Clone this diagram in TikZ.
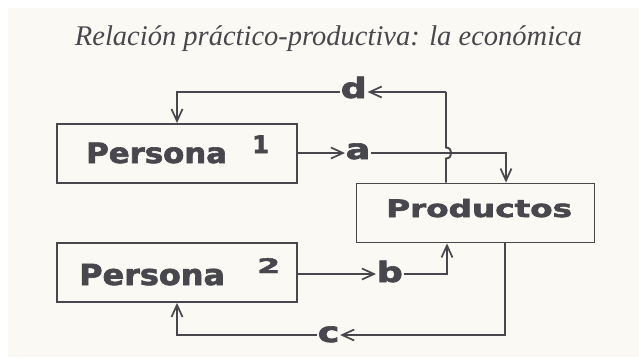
\documentclass[tikz,border=0pt]{standalone}
\usepackage{fontspec}
\usetikzlibrary{arrows.meta}
\newfontfamily\titlefont{Liberation Serif}
\newfontfamily\boxfont{DejaVu Sans}[BoldFeatures={FakeBold=2.2}]
\definecolor{ink}{HTML}{48474D}
\definecolor{paper}{HTML}{FAF9F4}
\newcommand{\wide}[2]{\scalebox{#1}[1]{#2}}
\tikzset{
  box/.style={draw=ink, line width=1.9pt, minimum width=240pt, minimum height=59pt, inner sep=0pt},
  boxtext/.style={text=ink, font=\boxfont\bfseries, inner sep=0pt, anchor=base west},
  lbl/.style={text=ink, font=\boxfont\bfseries\fontsize{28}{28}\selectfont, inner sep=0.6pt, anchor=base west},
  conn/.style={draw=ink, line width=1.9pt},
  arr/.style={conn, -{Straight Barb[length=12pt,width=11pt,line width=1.7pt]}}
}
\begin{document}
\begin{tikzpicture}[x=1pt,y=-1pt]
\useasboundingbox (0,0) rectangle (639,360);
\fill[white] (0,0) rectangle (639,360);
\fill[paper] (8,8) rectangle (639,357);
\node[text=ink, font=\titlefont\itshape\fontsize{28.5}{28.5}\selectfont, anchor=base, inner sep=0pt] (title) at (328.5,45) {Relación práctico-productiva: la económica};
% boxes
\node[box] (p1) at (177,153.5) {};
\node[box] (p2) at (177,272.5) {};
\node[box, minimum width=238pt] (prod) at (475.5,213) {};
\node[boxtext, font=\boxfont\bfseries\fontsize{28}{28}\selectfont] (p1t) at (86,163) {\wide{1.1}{Persona}};
\node[boxtext, font=\boxfont\bfseries\fontsize{24}{24}\selectfont] (p1n) at (252,153) {\wide{1.0}{1}};
\node[boxtext, font=\boxfont\bfseries\fontsize{29}{29}\selectfont] (p2t) at (79,285) {\wide{1.1}{Persona}};
\node[boxtext, font=\boxfont\bfseries\fontsize{20}{20}\selectfont] (p2n) at (257,273) {\wide{1.65}{2}};
\node[boxtext, font=\boxfont\bfseries\fontsize{24}{24}\selectfont] (prodt) at (386,217) {\wide{1.36}{Productos}};
% letters
\node[lbl] (la) at (345,159) {\wide{1.3}{a}};
\node[lbl] (ld) at (340,98) {\wide{1.3}{d}};
\node[lbl] (lb) at (376,282) {\wide{1.3}{b}};
\node[lbl] (lc) at (317,342) {\wide{1.3}{c}};
% coordinates
\coordinate (aturn) at (506,153);
\coordinate (dx) at (446,92);
\coordinate (bx) at (447,274);
\coordinate (cx) at (505,335);
% a
\draw[arr] (p1.east |- aturn) -- (la.west |- aturn);
\draw[arr] (la.east |- aturn) -- (aturn) -- (aturn |- prod.north);
% d
\draw[conn] (dx |- prod.north) -- (446,158.5) .. controls (453,158.5) and (453,147.5) .. (446,147.5) -- (dx);
\draw[arr] (dx) -- (ld.east |- dx);
\draw[arr] (ld.west |- dx) -| (p1.north);
% b
\draw[arr] (p2.east |- bx) -- (lb.west |- bx);
\draw[arr] (lb.east |- bx) -- (bx) -- (bx |- prod.south);
% c
\draw[arr] (cx |- prod.south) -- (cx) -- (lc.east |- cx);
\draw[arr] (lc.west |- cx) -| (p2.south);
\end{tikzpicture}
\end{document}
